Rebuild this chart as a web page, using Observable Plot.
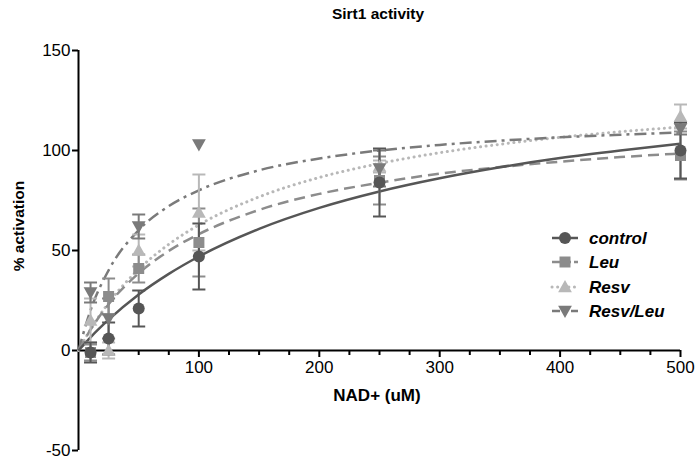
<!DOCTYPE html>
<html><head><meta charset="utf-8">
<script src="https://cdn.jsdelivr.net/npm/d3@7"></script>
<script src="https://cdn.jsdelivr.net/npm/@observablehq/plot@0.6"></script>
<style>body{margin:0;background:#fff}svg{display:block}</style>
</head><body><div id="chart"></div>
<script>
// ---------- data ----------
const title = "Sirt1 activity";
const xLabel = "NAD+ (uM)";
const yLabel = "% activation";
const series = ["control", "Leu", "Resv", "Resv/Leu"];
const nad = [10, 25, 50, 100, 250, 500];

const controlMean = [-1, 6, 21, 47, 84, 100];
const controlErr  = [5, 8, 9, 16.5, 17, 14];
const leuMean     = [-1, 27, 41, 54, 85, 97.5];
const leuErr      = [4, 9, 7, 17, 12, 12];
const resvMean    = [15, 0, 50, 69, 92, 117];
const resvErr     = [11, 4, 8, 19, 3, 6];
const resvLeuMean = [29, 16, 62, 103, 91, 111];
const resvLeuErr  = [5, 10, 6, 0, 9, 3];

// fitted curves
const fitX       = [0, 10, 25, 50, 75, 100, 150, 200, 250, 300, 350, 400, 450, 500];
const controlFit = [0, 6.6, 15.4, 28, 38.3, 47, 60.8, 71.3, 79.5, 86.1, 91.6, 96.2, 100, 103.4];
const leuFit     = [0, 10.4, 23.1, 38.6, 49.8, 58.2, 70.3, 78.3, 83.9, 88.4, 91.7, 94.4, 96.7, 98.5];
const resvFit    = [0, 10.6, 23.8, 40.6, 53.1, 62.8, 76.8, 86.5, 93.5, 98.9, 103.1, 106.6, 109.4, 111.7];
const resvLeuFit = [0, 20.1, 40.1, 60.2, 72.2, 80.1, 90.1, 96, 100, 102.8, 104.9, 106.6, 107.9, 109];

const xTicks = [100, 200, 300, 400, 500];
const xMinorTicks = [25, 50, 75, 125, 150, 175, 225, 250, 275, 325, 350, 375, 425, 450, 475];
const yTicks = [-50, 0, 50, 100, 150];

// ---------- styles ----------
const means = [controlMean, leuMean, resvMean, resvLeuMean];
const errs = [controlErr, leuErr, resvErr, resvLeuErr];
const fits = [controlFit, leuFit, resvFit, resvLeuFit];
const colors = ["#565656", "#8c8c8c", "#b8b8b8", "#7a7a7a"];
const dashes = [null, "11,6", "0.1,5.5", "12,5,3,5"];
const widths = [2.5, 2.5, 3, 2.5];

const sqrt = (size) => Math.sqrt(size / Math.PI);
const symCircle = {draw(c, size) { const r = sqrt(size); c.moveTo(r, 0); c.arc(0, 0, r, 0, 2 * Math.PI); }};
const symSquare = {draw(c, size) { const s = sqrt(size); c.rect(-s, -s, 2 * s, 2 * s); }};
const symUp = {draw(c, size) { const s = sqrt(size) * 1.15; c.moveTo(0, -s); c.lineTo(s, s * 0.75); c.lineTo(-s, s * 0.75); c.closePath(); }};
const symDown = {draw(c, size) { const s = sqrt(size) * 1.15; c.moveTo(0, s); c.lineTo(s, -s * 0.75); c.lineTo(-s, -s * 0.75); c.closePath(); }};
const symCap = {draw(c, size) { const s = sqrt(size); c.moveTo(-s, 0); c.lineTo(s, 0); }};
const symbols = [symCircle, symSquare, symUp, symDown];
const radii = [6, 5.5, 6, 6];

const FONT = "'Liberation Sans', Arial, Helvetica, sans-serif";

// ---------- tables ----------
const pts = series.map((s, i) => nad.map((x, j) => ({
  series: s, x, y: means[i][j], lo: means[i][j] - errs[i][j], hi: means[i][j] + errs[i][j], e: errs[i][j]
})));
const curves = series.map((s, i) => fitX.map((x, j) => ({series: s, x, y: fits[i][j]})));

const drawOrder = [2, 3, 1, 0];
const marks = [];
marks.push(Plot.ruleX([0], {y1: d3.min(yTicks), y2: d3.max(yTicks), stroke: "#000", strokeWidth: 2}));
marks.push(Plot.ruleY([0], {x1: 0, x2: d3.max(xTicks), stroke: "#000", strokeWidth: 2}));
marks.push(Plot.axisY(yTicks, {tickSize: 6, strokeWidth: 2, fontSize: 17, tickPadding: 2, label: null, fill: "#000", tickFormat: d => `${d}`}));
marks.push(Plot.axisX(xMinorTicks, {anchor: "bottom", dy: -100, tickSize: 5, strokeWidth: 2, tickFormat: () => "", label: null}));
marks.push(Plot.axisX(xTicks, {anchor: "bottom", dy: -100, tickSize: 7, strokeWidth: 2, fontSize: 17, tickPadding: 3, label: null, fill: "#000", tickFormat: d => `${d}`}));

for (const i of drawOrder) {
  marks.push(Plot.line(curves[i], {x: "x", y: "y", curve: "monotone-x", stroke: colors[i], strokeWidth: widths[i],
    strokeDasharray: dashes[i], strokeLinecap: i === 2 ? "round" : "butt"}));
}
for (const i of drawOrder) {
  const d = pts[i].filter(p => p.e > 0);
  marks.push(Plot.ruleX(d, {x: "x", y1: "lo", y2: "hi", stroke: colors[i], strokeWidth: 2}));
  marks.push(Plot.dot(d, {x: "x", y: "lo", symbol: symCap, r: 6.5, stroke: colors[i], fill: "none", strokeWidth: 2}));
  marks.push(Plot.dot(d, {x: "x", y: "hi", symbol: symCap, r: 6.5, stroke: colors[i], fill: "none", strokeWidth: 2}));
}
for (const i of drawOrder) {
  marks.push(Plot.dot(pts[i], {x: "x", y: "y", symbol: symbols[i], r: radii[i], fill: colors[i], stroke: "none"}));
}

const plot = Plot.plot({
  width: 697, height: 461,
  marginLeft: 78, marginRight: 17, marginTop: 50, marginBottom: 11,
  style: {fontFamily: FONT, color: "#000", background: "#fff"},
  x: {domain: [0, 500]},
  y: {domain: [-50, 150]},
  marks
});
document.getElementById("chart").appendChild(plot);

// ---------- titles & legend ----------
const svg = d3.select(plot);
svg.append("text").text(title).attr("x", 378).attr("y", 19).attr("text-anchor", "middle")
  .attr("font-family", FONT).attr("font-size", 15.5).attr("font-weight", "bold");
svg.append("text").text(xLabel).attr("x", 377).attr("y", 401).attr("text-anchor", "middle")
  .attr("font-family", FONT).attr("font-size", 17).attr("font-weight", "bold");
svg.append("text").text(yLabel).attr("transform", "translate(24,226) rotate(-90)").attr("text-anchor", "middle")
  .attr("font-family", FONT).attr("font-size", 15.5).attr("font-weight", "bold");

const legendRows = [238, 262, 287, 311];
series.forEach((s, i) => {
  const g = svg.append("g").attr("transform", `translate(565,${legendRows[i]})`);
  g.append("line").attr("x1", -13).attr("x2", 13).attr("stroke", colors[i]).attr("stroke-width", widths[i])
    .attr("stroke-dasharray", i === 0 ? null : i === 1 ? "8,3" : i === 2 ? "0.1,5.5" : "8,4,3,4")
    .attr("stroke-linecap", i === 2 ? "round" : "butt");
  g.append("path").attr("d", (() => { const p = d3.path(); symbols[i].draw(p, radii[i] * radii[i] * Math.PI); return p.toString(); })())
    .attr("fill", colors[i]);
  g.append("text").text(s).attr("x", 24).attr("y", 6).attr("text-anchor", "start").attr("font-family", FONT).attr("font-size", 17)
    .attr("font-weight", "bold").attr("font-style", "italic").attr("fill", "#000");
});
</script>
</body></html>
